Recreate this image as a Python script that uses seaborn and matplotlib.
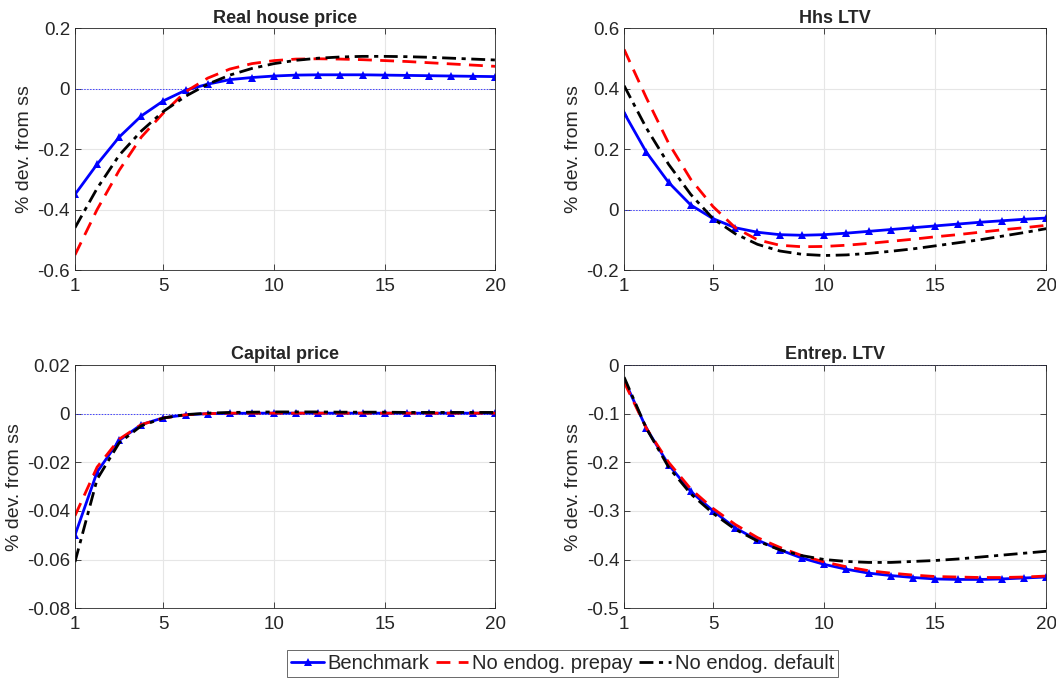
import numpy as np
import matplotlib
matplotlib.use("Agg")
import matplotlib.pyplot as plt
import pandas as pd
import seaborn as sns

periods = list(range(1, 21))

# Real house price
house_bench = [-0.35, -0.25, -0.16, -0.09, -0.04, -0.005, 0.015, 0.03, 0.037, 0.042,
               0.045, 0.046, 0.046, 0.046, 0.045, 0.044, 0.043, 0.042, 0.041, 0.040]
house_prepay = [-0.55, -0.40, -0.27, -0.16, -0.08, -0.01, 0.035, 0.065, 0.083, 0.093,
                0.098, 0.099, 0.098, 0.096, 0.093, 0.090, 0.086, 0.082, 0.078, 0.074]
house_default = [-0.46, -0.33, -0.22, -0.14, -0.075, -0.025, 0.015, 0.045, 0.067, 0.083,
                 0.094, 0.101, 0.105, 0.107, 0.107, 0.106, 0.104, 0.101, 0.098, 0.095]

# Hhs LTV
hhs_bench = [0.32, 0.19, 0.09, 0.015, -0.03, -0.06, -0.075, -0.083, -0.085, -0.083,
             -0.078, -0.072, -0.066, -0.060, -0.054, -0.048, -0.042, -0.037, -0.032, -0.028]
hhs_prepay = [0.53, 0.37, 0.22, 0.10, 0.01, -0.06, -0.10, -0.118, -0.123, -0.122,
              -0.118, -0.112, -0.105, -0.098, -0.090, -0.083, -0.075, -0.067, -0.060, -0.052]
hhs_default = [0.41, 0.27, 0.15, 0.05, -0.03, -0.08, -0.115, -0.137, -0.148, -0.152,
               -0.150, -0.145, -0.138, -0.130, -0.120, -0.110, -0.100, -0.088, -0.076, -0.063]

# Capital price
cap_bench = [-0.050, -0.024, -0.011, -0.0045, -0.0017, -0.0005, 0.0, 0.0001, 0.0002, 0.0002,
             0.0002, 0.0002, 0.0002, 0.0002, 0.0002, 0.0002, 0.0002, 0.0002, 0.0002, 0.0002]
cap_prepay = [-0.042, -0.022, -0.0105, -0.0045, -0.0018, -0.0005, 0.0, 0.0002, 0.0002, 0.0002,
              0.0002, 0.0002, 0.0002, 0.0002, 0.0002, 0.0002, 0.0002, 0.0002, 0.0002, 0.0002]
cap_default = [-0.061, -0.027, -0.012, -0.005, -0.0018, -0.0004, 0.0002, 0.0005, 0.0006, 0.0007,
               0.0007, 0.0007, 0.0006, 0.0006, 0.0006, 0.0005, 0.0005, 0.0005, 0.0005, 0.0005]

# Entrep. LTV
ent_bench = [-0.03, -0.13, -0.205, -0.26, -0.30, -0.335, -0.36, -0.38, -0.397, -0.41,
             -0.42, -0.428, -0.433, -0.437, -0.44, -0.441, -0.441, -0.44, -0.438, -0.436]
ent_prepay = [-0.035, -0.13, -0.20, -0.255, -0.295, -0.328, -0.355, -0.375, -0.392, -0.405,
              -0.415, -0.423, -0.428, -0.432, -0.435, -0.436, -0.437, -0.437, -0.436, -0.434]
ent_default = [-0.025, -0.13, -0.21, -0.265, -0.305, -0.338, -0.362, -0.38, -0.392, -0.40,
               -0.404, -0.406, -0.406, -0.404, -0.402, -0.399, -0.395, -0.391, -0.387, -0.383]

titles = ["Real house price", "Hhs LTV", "Capital price", "Entrep. LTV"]
series_names = ["Benchmark", "No endog. prepay", "No endog. default"]
panels = [
    (house_bench, house_prepay, house_default, (-0.6, 0.2), [-0.6, -0.4, -0.2, 0, 0.2]),
    (hhs_bench, hhs_prepay, hhs_default, (-0.2, 0.6), [-0.2, 0, 0.2, 0.4, 0.6]),
    (cap_bench, cap_prepay, cap_default, (-0.08, 0.02), [-0.08, -0.06, -0.04, -0.02, 0, 0.02]),
    (ent_bench, ent_prepay, ent_default, (-0.5, 0.0), [-0.5, -0.4, -0.3, -0.2, -0.1, 0]),
]

sns.set_style("ticks")
plt.rcParams['font.family'] = ['Liberation Sans', 'DejaVu Sans']

fig = plt.figure(figsize=(10.56, 6.81), dpi=100)
boxes = [
    [0.071, 0.6035, 0.398, 0.355],
    [0.591, 0.6035, 0.400, 0.355],
    [0.071, 0.107, 0.398, 0.357],
    [0.591, 0.107, 0.400, 0.357],
]

styles = {
    "Benchmark": dict(color="#0000ff", linestyle="-", linewidth=2, marker="^", markersize=6),
    "No endog. prepay": dict(color="#ff0000", linestyle=(0, (5, 3)), linewidth=2),
    "No endog. default": dict(color="black", linestyle=(0, (5, 2, 1.5, 2)), linewidth=2),
}

handles = []
for i, (bench, prepay, default, ylim, yticks) in enumerate(panels):
    ax = fig.add_axes(boxes[i])
    df = pd.DataFrame({"t": periods, series_names[0]: bench,
                       series_names[1]: prepay, series_names[2]: default})
    for name in series_names:
        st = styles[name]
        sns.lineplot(data=df, x="t", y=name, ax=ax, color=st["color"],
                     linewidth=st["linewidth"], marker=st.get("marker"),
                     markersize=st.get("markersize", 0), markeredgewidth=0,
                     label=name if i == 0 else None, legend=False)
        ln = ax.get_lines()[-1]
        ln.set_linestyle(st["linestyle"])
        if i == 0:
            handles.append(ln)
    ax.axhline(0, color="#4040ff", linestyle=(0, (1.5, 1.5)), linewidth=0.7, zorder=1)
    ax.set_xlim(1, 20)
    ax.set_ylim(*ylim)
    ax.set_xticks([1, 5, 10, 15, 20])
    ax.set_yticks(yticks)
    ax.set_yticklabels([("%g" % v) for v in yticks])
    ax.grid(True, color="#e6e6e6", linewidth=0.8)
    ax.set_axisbelow(True)
    ax.tick_params(direction="in", top=True, right=True, labelsize=13.5, colors="#262626",
                   length=4, width=0.6)
    ax.tick_params(axis="x", pad=6)
    for sp in ax.spines.values():
        sp.set_color("#262626")
        sp.set_linewidth(0.6)
    ax.set_title(titles[i], fontsize=13, fontweight="bold", pad=4)
    ax.set_xlabel("")
    ax.set_ylabel("% dev. from ss", fontsize=14, color="#262626", labelpad=3)

leg = fig.legend(handles=handles, labels=series_names, loc="center",
                 bbox_to_anchor=(0.533, 0.026), ncol=3, fontsize=14.5, frameon=True,
                 fancybox=False, edgecolor="#262626", handlelength=1.6, handletextpad=0.2,
                 columnspacing=0.3, borderpad=0.2)
leg.get_frame().set_linewidth(0.6)

fig.savefig("out.png", dpi=100)
